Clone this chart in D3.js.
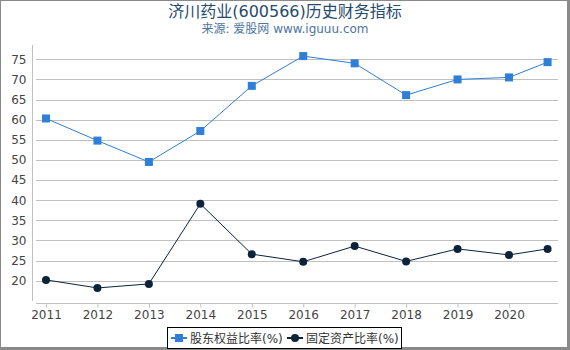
<!DOCTYPE html>
<html>
<head>
<meta charset="utf-8">
<script src="https://cdn.jsdelivr.net/npm/d3@7"></script>
<style>
  body { margin: 0; background: #fff; }
  svg text { font-family: "DejaVu Sans", "Noto Sans CJK SC", sans-serif; }
</style>
</head>
<body>
<div id="chart"></div>
<script>
// 济川药业 equity ratio vs fixed asset ratio

const years = [2011, 2012, 2013, 2014, 2015, 2016, 2017, 2018, 2019, 2020, 2020.75];
const xTicks = [2011, 2012, 2013, 2014, 2015, 2016, 2017, 2018, 2019, 2020];
const yTicks = [20, 25, 30, 35, 40, 45, 50, 55, 60, 65, 70, 75];
const equityRatio = [60.3, 54.8, 49.5, 57.2, 68.4, 75.8, 74.0, 66.1, 70.0, 70.5, 74.3];
const fixedAssetRatio = [20.2, 18.2, 19.2, 39.1, 26.6, 24.7, 28.6, 24.8, 27.9, 26.4, 27.9];
const seriesNames = ["股东权益比率(%)", "固定资产比率(%)"];

const width = 570, height = 350,
      margin = ({top: 45, right: 12, bottom: 46, left: 36});

let svg = d3.select("#chart")
    .append("svg")
    .attr("width", width)
    .attr("height", height);

// outer frame
svg.append("rect")
    .attr("x", 0.5).attr("y", 0.5)
    .attr("width", width - 3).attr("height", height - 3)
    .attr("fill", "none")
    .attr("stroke", "#8a8a8a");
svg.append("rect")
    .attr("x", width - 3).attr("y", 0)
    .attr("width", 3).attr("height", height)
    .attr("fill", "#8a8a8a");
svg.append("rect")
    .attr("x", 0).attr("y", height - 3)
    .attr("width", width).attr("height", 3)
    .attr("fill", "#8a8a8a");

svg.append("text")
    .attr("x", 285).attr("y", 17)
    .attr("text-anchor", "middle")
    .attr("fill", "#274b6d")
    .style("font-size", "16px")
    .text("济川药业(600566)历史财务指标");

svg.append("text")
    .attr("x", 285).attr("y", 33)
    .attr("text-anchor", "middle")
    .attr("fill", "#4d759e")
    .style("font-size", "12px")
    .text("来源: 爱股网 www.iguuu.com");

let x = d3.scaleLinear()
    .domain([2011, 2020])
    .range([46, 509]);

let y = d3.scaleLinear()
    .domain([20, 75])
    .range([280.7, 59.3]);

// gridlines
svg.append("g")
    .selectAll("line")
    .data(yTicks)
    .join("line")
    .attr("x1", 36).attr("x2", 558)
    .attr("y1", d => Math.round(y(d)) + 0.5)
    .attr("y2", d => Math.round(y(d)) + 0.5)
    .attr("stroke", "#c0c0c0");

// y axis
const yAxis = g => g
    .attr("transform", `translate(32.5,0)`)
    .call(d3.axisLeft(y).tickValues(yTicks).tickSize(0).tickPadding(6))
    .call(g => g.select(".domain").remove())
    .call(g => g.append("line")
        .attr("y1", 45).attr("y2", 301)
        .attr("stroke", "#c0c0c0"));

svg.append("g").call(yAxis)
    .selectAll("text")
    .attr("fill", "#444")
    .style("font-size", "12px");

// x axis
const xAxis = g => g
    .attr("transform", `translate(0,303.5)`)
    .call(d3.axisBottom(x).tickValues(xTicks).tickFormat(d3.format("d")).tickSize(4).tickPadding(3))
    .call(g => g.select(".domain").remove())
    .call(g => g.selectAll(".tick line").attr("stroke", "#c0c0c0"))
    .call(g => g.append("line")
        .attr("x1", 36).attr("x2", 558)
        .attr("stroke", "#c0c0c0"));

svg.append("g").call(xAxis)
    .selectAll("text")
    .attr("fill", "#444")
    .style("font-size", "12px");

const line = d3.line()
    .x((d, i) => x(years[i]))
    .y(d => y(d));

svg.append("path")
    .datum(equityRatio)
    .attr("fill", "none")
    .attr("stroke", "#2f7ed8")
    .attr("stroke-width", 1)
    .attr("d", line);

svg.append("path")
    .datum(fixedAssetRatio)
    .attr("fill", "none")
    .attr("stroke", "#0d233a")
    .attr("stroke-width", 1)
    .attr("d", line);

svg.append("g")
    .selectAll("rect")
    .data(equityRatio)
    .join("rect")
    .attr("x", (d, i) => x(years[i]) - 4)
    .attr("y", d => y(d) - 4)
    .attr("width", 8).attr("height", 8)
    .attr("fill", "#2f7ed8");

svg.append("g")
    .selectAll("circle")
    .data(fixedAssetRatio)
    .join("circle")
    .attr("cx", (d, i) => x(years[i]))
    .attr("cy", d => y(d))
    .attr("r", 4)
    .attr("fill", "#0d233a");

// legend
let legend = svg.append("g");
legend.append("rect")
    .attr("x", 167.5).attr("y", 327.5)
    .attr("width", 234).attr("height", 21)
    .attr("fill", "#fff")
    .attr("stroke", "#000");

const legendX = [171, 287];
seriesNames.forEach((name, i) => {
    let item = legend.append("g").attr("transform", `translate(${legendX[i]},338)`);
    item.append("line")
        .attr("x1", 0).attr("x2", 16)
        .attr("stroke", i === 0 ? "#2f7ed8" : "#0d233a")
        .attr("stroke-width", 2);
    if (i === 0) {
        item.append("rect")
            .attr("x", 4).attr("y", -4)
            .attr("width", 8).attr("height", 8)
            .attr("fill", "#2f7ed8");
    } else {
        item.append("circle")
            .attr("cx", 8).attr("cy", 0).attr("r", 4)
            .attr("fill", "#0d233a");
    }
    item.append("text")
        .attr("x", 19).attr("y", 4.5)
        .attr("fill", "#333")
        .style("font-size", "12px")
        .text(name);
});
</script>
</body>
</html>
